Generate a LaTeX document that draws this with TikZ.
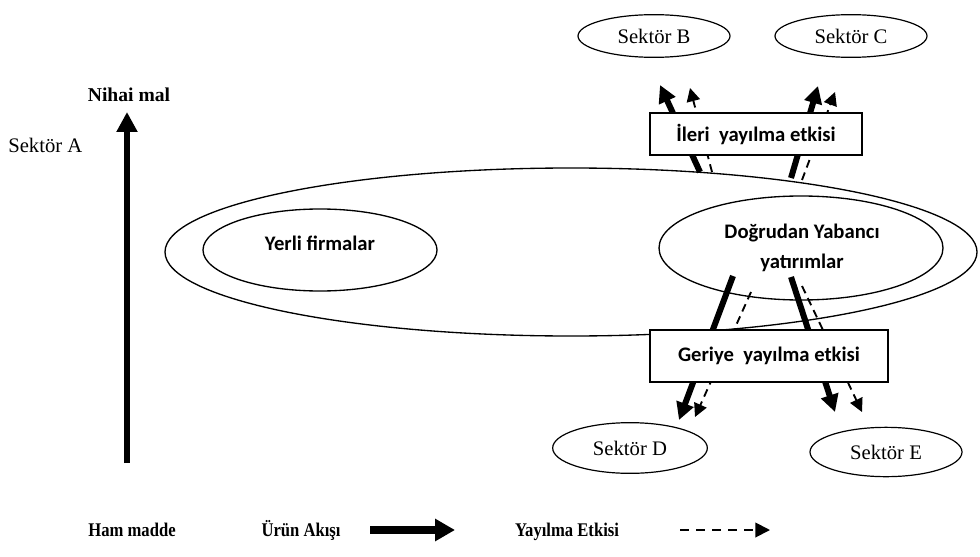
\documentclass[tikz,border=0pt]{standalone}
\usepackage{fontspec}
\setmainfont{Liberation Serif}
\newfontfamily\calib{Carlito}
\usetikzlibrary{shapes.geometric,arrows.meta}
\tikzset{
  sek/.style={ellipse,draw,line width=0.9pt,inner sep=0pt,font=\fontsize{15.5pt}{18pt}\selectfont},
  ring/.style={ellipse,draw,line width=1pt,inner sep=0pt},
  lbl/.style={font=\calib\bfseries\fontsize{15.5pt}{22.5pt}\selectfont,align=center,inner sep=0pt},
  effbox/.style={draw,line width=1.1pt,fill=white,inner sep=0pt,font=\calib\bfseries\fontsize{15.5pt}{18pt}\selectfont},
  flow/.style={line width=4.5pt,-{Triangle[length=13pt,width=13pt]}},
  spill/.style={line width=1.4pt,dash pattern=on 6pt off 4pt,-{Triangle[length=10pt,width=10pt]}},
  leg/.style={font=\bfseries\fontsize{14.5pt}{17pt}\selectfont,inner sep=0pt,anchor=base,xscale=0.86,transform shape}
}
\begin{document}
\begin{tikzpicture}[x=0.75pt,y=-0.75pt]
\useasboundingbox (0,0) rectangle (980,556);
% left axis
\node[font=\bfseries\fontsize{14.7pt}{17pt}\selectfont,inner sep=0pt] (nihai) at (129,95) {Nihai mal};
\node[font=\fontsize{15.5pt}{18pt}\selectfont,inner sep=0pt,anchor=west] (sekA) at (8,145) {Sektör A};
\coordinate (axb) at (127,463);
\coordinate (axt) at (127,112);
\draw[line width=5.2pt,-{Triangle[length=15pt,width=15pt]}] (axb) -- (axt);
% big ellipse and inner ellipses
\node[ring,minimum width=609pt,minimum height=126pt] (big) at (571,252) {};
\node[ring,minimum width=175.5pt,minimum height=61.5pt] (yerli) at (320,250) {};
\node[lbl] (yerlit) at (320,243) {Yerli firmalar};
\node[ring,minimum width=213pt,minimum height=78pt] (dyy) at (801,248) {};
\node[lbl] (dyyt) at (802,248) {Doğrudan Yabancı\\yatırımlar};
% sectors
\node[sek,minimum width=114pt,minimum height=32pt] (B) at (654,36) {Sektör B};
\node[sek,minimum width=114pt,minimum height=32pt] (C) at (851,36) {Sektör C};
\node[sek,minimum width=116pt,minimum height=38pt] (D) at (630,448) {Sektör D};
\node[sek,minimum width=114pt,minimum height=37pt] (E) at (886,452) {Sektör E};
% forward arrows
\coordinate (b1s) at (700,172); \coordinate (b1e) at (660,85);
\coordinate (b2s) at (712,172); \coordinate (b2e) at (690,88);
\coordinate (c1s) at (791,178); \coordinate (c1e) at (818,86);
\coordinate (c2s) at (802,180); \coordinate (c2e) at (835,92);
\draw[flow] (b1s) -- (b1e);
\draw[spill] (b2s) -- (b2e);
\draw[flow] (c1s) -- (c1e);
\draw[spill] (c2s) -- (c2e);
% backward arrows
\coordinate (d1s) at (733,276); \coordinate (d1e) at (679,420);
\coordinate (d2s) at (751,292); \coordinate (d2e) at (695,417);
\coordinate (e1s) at (791,277); \coordinate (e1e) at (835,412);
\coordinate (e2s) at (802,286); \coordinate (e2e) at (862,412);
\draw[flow] (d1s) -- (d1e);
\draw[spill] (d2s) -- (d2e);
\draw[flow] (e1s) -- (e1e);
\draw[spill] (e2s) -- (e2e);
% boxes
\node[effbox,minimum width=159pt,minimum height=31.5pt] (ileri) at (756,134) {İleri~ yayılma etkisi};
\node[effbox,minimum width=178.5pt,minimum height=39pt] (geri) at (769,356) {Geriye~ yayılma etkisi};
% legend
\node[leg] (ham) at (132,536) {Ham madde};
\node[leg] (urun) at (301,536) {Ürün Akışı};
\coordinate (l1s) at (370,530); \coordinate (l1e) at (455,530);
\draw[line width=5.5pt,-{Triangle[length=15pt,width=16pt]}] (l1s) -- (l1e);
\node[leg] (yay) at (567,536) {Yayılma Etkisi};
\coordinate (l2s) at (680,530); \coordinate (l2e) at (770,530);
\draw[line width=1.4pt,dash pattern=on 7pt off 5pt,-{Triangle[length=11pt,width=11pt]}] (l2s) -- (l2e);
\end{tikzpicture}
\end{document}
